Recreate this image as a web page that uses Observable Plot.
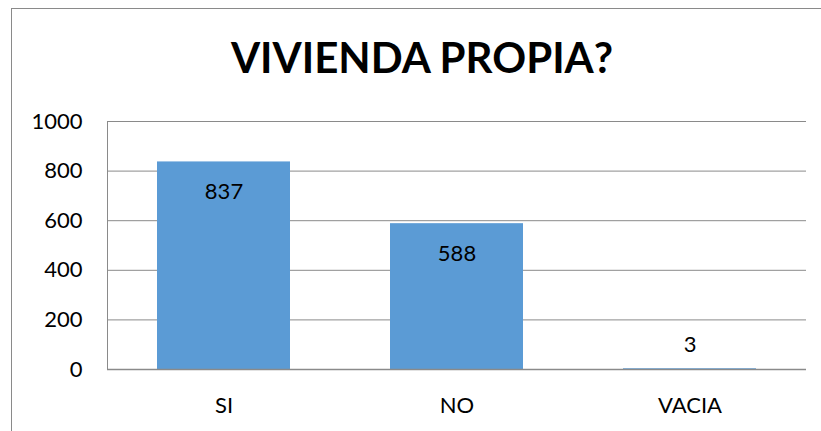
<!DOCTYPE html>
<html>
<head>
<meta charset="utf-8">
<script src="https://cdn.jsdelivr.net/npm/d3@7"></script>
<script src="https://cdn.jsdelivr.net/npm/@observablehq/plot@0.6"></script>
<style>
  html, body { margin: 0; padding: 0; background: #fff; overflow: hidden; }
  #wrap { position: relative; width: 821px; height: 431px; overflow: hidden; }
  #border { position: absolute; left: 11px; top: 8px; width: 1000px; height: 1000px;
            border-left: 1px solid #8a8a8a; border-top: 1px solid #8a8a8a; box-sizing: border-box; }
  #title { position: absolute; left: 0; top: 31px; width: 844px; text-align: center;
           font-family: Lato, "Open Sans", sans-serif; font-weight: bold; font-size: 42px;
           line-height: 52px; color: #000; }
  #chart { position: absolute; left: 0; top: 0; }
</style>
</head>
<body>
<div id="wrap">
  <div id="border"></div>
  <div id="chart"></div>
  <div id="title">VIVIENDA PROPIA?</div>
</div>
<script>
const categories = ["SI", "NO", "VACIA"];
const values = [837, 588, 3];
const yTicks = [0, 200, 400, 600, 800, 1000];

const data = categories.map((c, i) => ({category: c, value: values[i]}));

const font = "Lato, 'Open Sans', sans-serif";

const chart = Plot.plot({
  width: 821,
  height: 431,
  marginLeft: 107,
  marginRight: 15,
  marginTop: 121,
  marginBottom: 62,
  style: {fontFamily: font, fontSize: "22px", color: "#000", background: "transparent"},
  x: {domain: categories, paddingInner: 0.43, paddingOuter: 0.215, label: null},
  y: {domain: [0, 1000], label: null},
  marks: [
    Plot.ruleY(yTicks.filter(t => t > 0), {stroke: "#8a8a8a", strokeWidth: 1, strokeOpacity: 1}),
    Plot.frame({anchor: "left", stroke: "#8a8a8a", strokeOpacity: 1}),
    Plot.barY(data, {x: "category", y: "value", fill: "#5B9BD5"}),
    Plot.ruleY([0], {stroke: "#8a8a8a", strokeWidth: 1.5, strokeOpacity: 1}),
    Plot.axisY({ticks: yTicks, tickSize: 0, tickPadding: 25, tickFormat: d => String(d), fontSize: 22, fill: "#000"}),
    Plot.axisX({tickSize: 0, tickPadding: 28, fontSize: 22, fill: "#000"}),
    Plot.text(data.filter(d => d.value >= 50), {x: "category", y: "value", text: d => String(d.value), dy: 30, fontSize: 22, fill: "#000"}),
    Plot.text(data.filter(d => d.value < 50), {x: "category", y: "value", text: d => String(d.value), dy: -24, fontSize: 22, fill: "#000"})
  ]
});
document.getElementById("chart").appendChild(chart);
</script>
</body>
</html>
